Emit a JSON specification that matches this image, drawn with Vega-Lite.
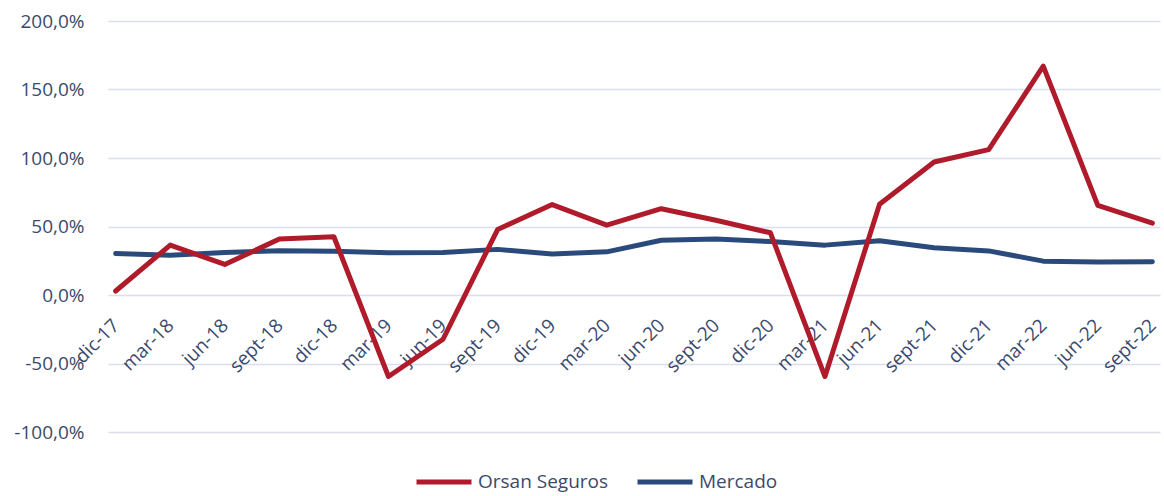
{
  "$schema": "https://vega.github.io/schema/vega-lite/v6.json",
  "width": 1052,
  "height": 411,
  "autosize": {"type": "none"},
  "padding": {"left": 108, "top": 21, "right": 4, "bottom": 64},
  "background": "white",
  "config": {
    "view": {"stroke": null},
    "font": "Open Sans",
    "locale": {
      "number": {"decimal": ",", "thousands": ".", "grouping": [3], "currency": ["", " €"], "minus": "-"}
    }
  },
  "data": {
    "values": [
      {"fecha": "dic-17", "serie": "Orsan Seguros", "valor": 0.029},
      {"fecha": "mar-18", "serie": "Orsan Seguros", "valor": 0.364},
      {"fecha": "jun-18", "serie": "Orsan Seguros", "valor": 0.223},
      {"fecha": "sept-18", "serie": "Orsan Seguros", "valor": 0.408},
      {"fecha": "dic-18", "serie": "Orsan Seguros", "valor": 0.425},
      {"fecha": "mar-19", "serie": "Orsan Seguros", "valor": -0.595},
      {"fecha": "jun-19", "serie": "Orsan Seguros", "valor": -0.323},
      {"fecha": "sept-19", "serie": "Orsan Seguros", "valor": 0.478},
      {"fecha": "dic-19", "serie": "Orsan Seguros", "valor": 0.66},
      {"fecha": "mar-20", "serie": "Orsan Seguros", "valor": 0.51},
      {"fecha": "jun-20", "serie": "Orsan Seguros", "valor": 0.63},
      {"fecha": "sept-20", "serie": "Orsan Seguros", "valor": 0.546},
      {"fecha": "dic-20", "serie": "Orsan Seguros", "valor": 0.454},
      {"fecha": "mar-21", "serie": "Orsan Seguros", "valor": -0.595},
      {"fecha": "jun-21", "serie": "Orsan Seguros", "valor": 0.663},
      {"fecha": "sept-21", "serie": "Orsan Seguros", "valor": 0.971},
      {"fecha": "dic-21", "serie": "Orsan Seguros", "valor": 1.061},
      {"fecha": "mar-22", "serie": "Orsan Seguros", "valor": 1.67},
      {"fecha": "jun-22", "serie": "Orsan Seguros", "valor": 0.654},
      {"fecha": "sept-22", "serie": "Orsan Seguros", "valor": 0.524},
      {"fecha": "dic-17", "serie": "Mercado", "valor": 0.303},
      {"fecha": "mar-18", "serie": "Mercado", "valor": 0.291},
      {"fecha": "jun-18", "serie": "Mercado", "valor": 0.31},
      {"fecha": "sept-18", "serie": "Mercado", "valor": 0.323},
      {"fecha": "dic-18", "serie": "Mercado", "valor": 0.32},
      {"fecha": "mar-19", "serie": "Mercado", "valor": 0.308},
      {"fecha": "jun-19", "serie": "Mercado", "valor": 0.31},
      {"fecha": "sept-19", "serie": "Mercado", "valor": 0.333},
      {"fecha": "dic-19", "serie": "Mercado", "valor": 0.299},
      {"fecha": "mar-20", "serie": "Mercado", "valor": 0.315},
      {"fecha": "jun-20", "serie": "Mercado", "valor": 0.40},
      {"fecha": "sept-20", "serie": "Mercado", "valor": 0.408},
      {"fecha": "dic-20", "serie": "Mercado", "valor": 0.39},
      {"fecha": "mar-21", "serie": "Mercado", "valor": 0.364},
      {"fecha": "jun-21", "serie": "Mercado", "valor": 0.396},
      {"fecha": "sept-21", "serie": "Mercado", "valor": 0.345},
      {"fecha": "dic-21", "serie": "Mercado", "valor": 0.322},
      {"fecha": "mar-22", "serie": "Mercado", "valor": 0.247},
      {"fecha": "jun-22", "serie": "Mercado", "valor": 0.241},
      {"fecha": "sept-22", "serie": "Mercado", "valor": 0.243}
    ]
  },
  "encoding": {
    "x": {
      "field": "fecha",
      "type": "ordinal",
      "sort": null,
      "scale": {"type": "point", "padding": 0.14},
      "axis": {
        "title": null,
        "orient": "bottom",
        "offset": -137,
        "domain": false,
        "ticks": false,
        "grid": false,
        "labelAngle": -45,
        "labelAlign": "right",
        "labelBaseline": "middle",
        "labelPadding": 27,
        "labelFontSize": 19,
        "labelColor": "#3B4A6B",
        "labelFont": "Open Sans"
      }
    },
    "y": {
      "field": "valor",
      "type": "quantitative",
      "scale": {"domain": [-1, 2], "nice": false, "zero": false},
      "axis": {
        "title": null,
        "values": [-1, -0.5, 0, 0.5, 1, 1.5, 2],
        "format": ".1%",
        "domain": false,
        "ticks": false,
        "labelPadding": 24,
        "labelFontSize": 19,
        "labelColor": "#3B4A6B",
        "labelFont": "Open Sans",
        "gridColor": "#DCDEEE",
        "gridWidth": 1.5
      }
    },
    "color": {
      "field": "serie",
      "type": "nominal",
      "scale": {"domain": ["Orsan Seguros", "Mercado"], "range": ["#B01B2B", "#2A4A7C"]},
      "legend": {
        "title": null,
        "orient": "none",
        "legendX": 306,
        "legendY": 431,
        "direction": "horizontal",
        "symbolType": "stroke",
        "symbolSize": 3025,
        "symbolStrokeWidth": 5,
        "labelFontSize": 19,
        "labelFont": "Open Sans",
        "labelColor": "#3B4A6B",
        "labelOffset": 4,
        "columnPadding": 18
      }
    }
  },
  "layer": [
    {
      "transform": [{"filter": "datum.serie === 'Mercado'"}],
      "mark": {"type": "line", "strokeWidth": 5, "strokeCap": "round", "strokeJoin": "round"}
    },
    {
      "transform": [{"filter": "datum.serie === 'Orsan Seguros'"}],
      "mark": {"type": "line", "strokeWidth": 5, "strokeCap": "round", "strokeJoin": "round"}
    }
  ]
}
